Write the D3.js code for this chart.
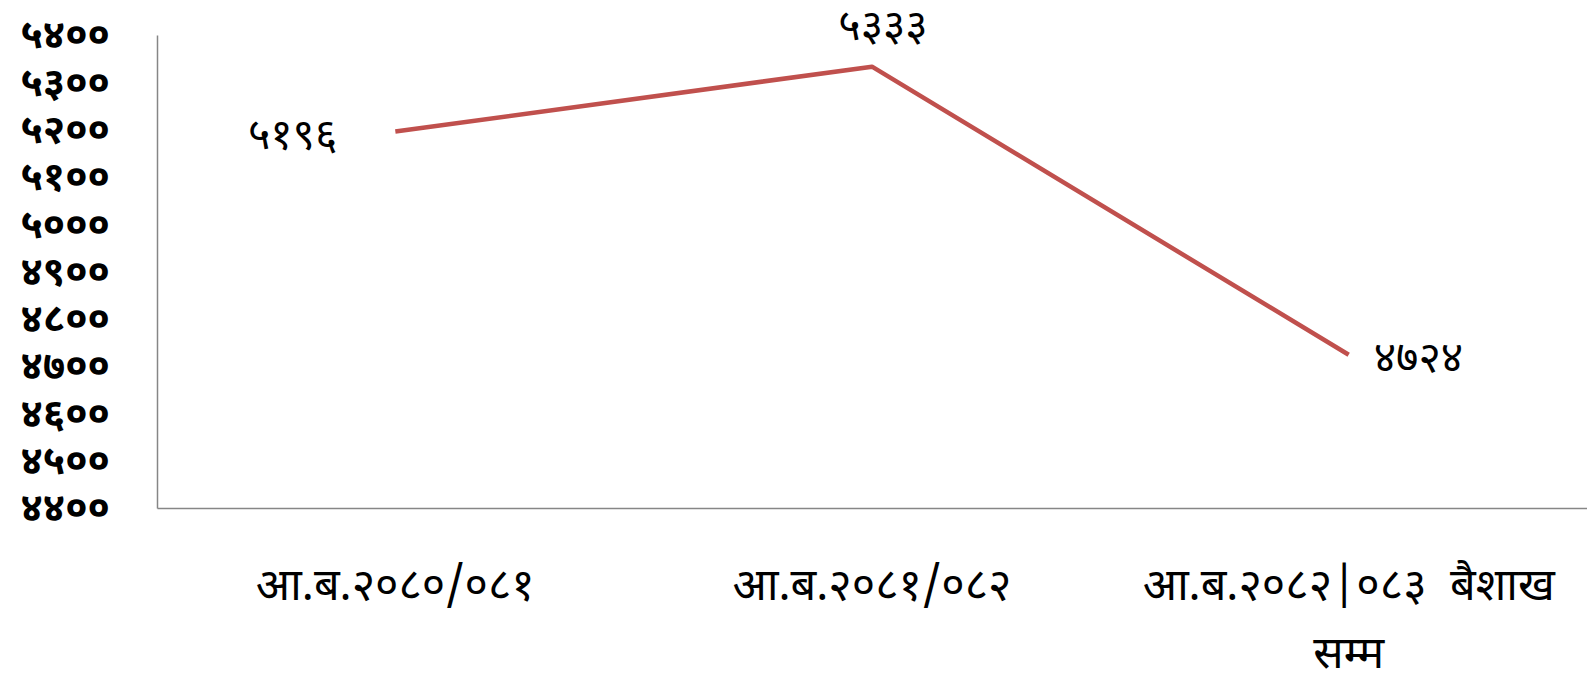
<!DOCTYPE html>
<html>
<head>
<meta charset="utf-8">
<script src="https://cdn.jsdelivr.net/npm/d3@7"></script>
<style>
  body { margin: 0; background: #fff; }
  text { font-family: "Noto Sans Devanagari", "Noto Sans", sans-serif; fill: #000; white-space: pre; }
</style>
</head>
<body>
<svg id="chart"></svg>
<script>
// data
const categories = ["आ.ब.२०८०/०८१", "आ.ब.२०८१/०८२", "आ.ब.२०८२|०८३  बैशाख सम्म"];
const categoryLines = [["आ.ब.२०८०/०८१"], ["आ.ब.२०८१/०८२"], ["आ.ब.२०८२|०८३  बैशाख", "सम्म"]];
const values = [5196, 5333, 4724];
const yTicks = [4400, 4500, 4600, 4700, 4800, 4900, 5000, 5100, 5200, 5300, 5400];

//constants
const width = 1587,
    height = 685,
    margin = { top: 35, bottom: 177, left: 157, right: 0 };

const devDigits = "०१२३४५६७८९";
const toDev = n => String(n).replace(/[0-9]/g, d => devDigits[+d]);

const svg = d3.select("#chart").attr("width", width).attr("height", height);

const xScale = d3.scalePoint()
    .domain(categories)
    .range([margin.left, width - margin.right])
    .padding(0.5);

const yScale = d3.scaleLinear()
    .domain([4400, 5400])
    .range([height - margin.bottom, margin.top]);

// y axis
const yAxis = d3.axisLeft(yScale)
    .tickValues(yTicks)
    .tickFormat(toDev)
    .tickSize(0)
    .tickPadding(47);

svg.append("g")
    .attr("transform", `translate(${margin.left},0)`)
    .call(yAxis)
    .call(g => g.select(".domain").attr("stroke", "#868686").attr("stroke-width", 1.5))
    .call(g => g.selectAll("text")
        .style("font-size", "40px")
        .style("font-weight", "bold")
        .attr("dy", "0.32em"));

// x axis
const xAxis = d3.axisBottom(xScale).tickSize(0).tickFormat("");
svg.append("g")
    .attr("transform", `translate(0,${height - margin.bottom})`)
    .call(xAxis)
    .call(g => g.select(".domain").attr("stroke", "#868686").attr("stroke-width", 1.5));

categories.forEach((c, i) => {
    const t = svg.append("text")
        .attr("text-anchor", "middle")
        .style("font-size", "45px")
        .attr("x", xScale(c))
        .attr("y", 600);
    categoryLines[i].forEach((line, j) => {
        t.append("tspan")
            .attr("x", xScale(c))
            .attr("dy", j === 0 ? 0 : 68)
            .text(line);
    });
});

// line
const line = d3.line()
    .x((d, i) => xScale(categories[i]))
    .y(d => yScale(d));

svg.append("path")
    .datum(values)
    .attr("fill", "none")
    .attr("stroke", "#C0504D")
    .attr("stroke-width", 4.5)
    .attr("stroke-linejoin", "round")
    .attr("d", line);

// data labels: left, above, right
const labelPos = [
    { dx: -58, dy: 4, anchor: "end" },
    { dx: 11, dy: -40, anchor: "middle" },
    { dx: 25, dy: 3, anchor: "start" }
];

svg.selectAll(".label")
    .data(values)
    .join("text")
    .attr("class", "label")
    .attr("x", (d, i) => xScale(categories[i]) + labelPos[i].dx)
    .attr("y", (d, i) => yScale(d) + labelPos[i].dy)
    .attr("dy", "0.32em")
    .attr("text-anchor", (d, i) => labelPos[i].anchor)
    .style("font-size", "43px")
    .text(d => toDev(d));
</script>
</body>
</html>
